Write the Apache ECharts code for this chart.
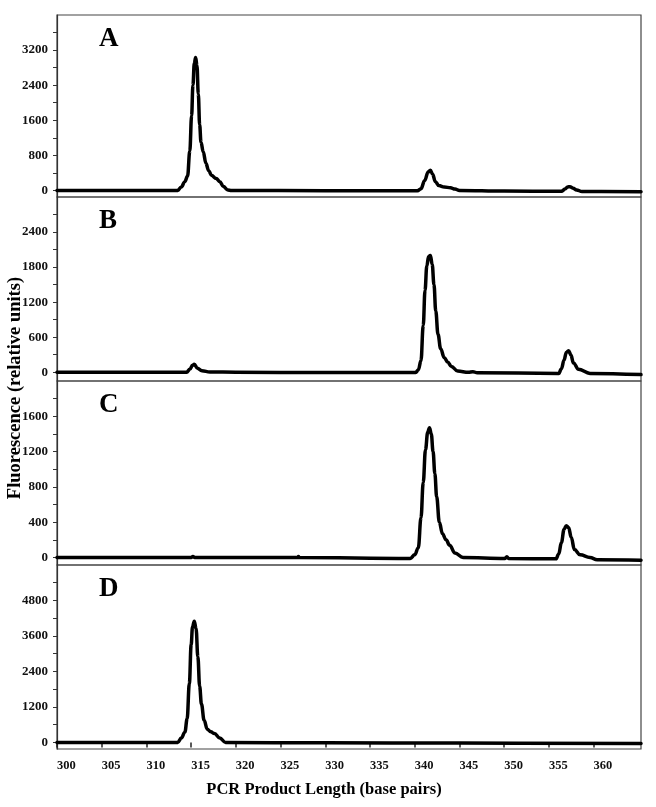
<!DOCTYPE html>
<html>
<head>
<meta charset="utf-8">
<script src="https://cdn.jsdelivr.net/npm/echarts@6/dist/echarts.min.js"></script>
<style>
  html, body { margin: 0; padding: 0; background: #fff; }
  #chart { width: 656px; height: 807px; }
</style>
</head>
<body>
<div id="chart"></div>
<script>
// panel letters
const panelNames = ['A', 'B', 'C', 'D']

// x axis: PCR product length (bp)
const xTicks = [300, 305, 310, 315, 320, 325, 330, 335, 340, 345, 350, 355, 360]

// y axis ranges and tick labels per panel
const yMax = [4000, 3000, 2000, 6000]
const yMin = [-150, -150, -85, -220]
const yLabelsA = [0, 800, 1600, 2400, 3200]
const yLabelsB = [0, 600, 1200, 1800, 2400]
const yLabelsC = [0, 400, 800, 1200, 1600]
const yLabelsD = [0, 1200, 2400, 3600, 4800]
const yTicksA = [0, 400, 800, 1200, 1600, 2000, 2400, 2800, 3200, 3600]
const yTicksB = [0, 300, 600, 900, 1200, 1500, 1800, 2100, 2400, 2700]
const yTicksC = [0, 200, 400, 600, 800, 1000, 1200, 1400, 1600, 1800]
const yTicksD = [0, 600, 1200, 1800, 2400, 3000, 3600, 4200, 4800, 5400]

// traces: [bp, fluorescence]
const traceA = [
  [300, 0], [313.5, 0], [313.9, 80], [314.3, 200], [314.6, 330], [314.85, 900],
  [315.05, 1700], [315.2, 2400], [315.35, 2900], [315.5, 3030], [315.65, 2850],
  [315.8, 2200], [315.95, 1500], [316.1, 1100], [316.35, 880], [316.65, 620],
  [316.95, 450], [317.3, 340], [317.8, 270], [318.2, 200], [318.6, 90],
  [319.1, 10], [319.5, 0], [330, -5], [340.3, -10], [340.7, 40], [341.1, 220],
  [341.5, 420], [341.75, 460], [342.0, 370], [342.3, 200], [342.7, 110],
  [343.3, 80], [344.0, 60], [344.5, 30], [345.0, 0], [350, -15], [356.4, -20],
  [356.8, 30], [357.1, 80], [357.35, 85], [357.7, 50], [358.1, 10], [358.7, -25],
  [365.3, -30]
]
const traceB = [
  [300, 0], [314.5, 0], [314.85, 50], [315.15, 120], [315.35, 135], [315.7, 70],
  [316.2, 25], [317.1, 5], [320, 0], [330, -5], [340.1, -5], [340.4, 40],
  [340.7, 200], [340.95, 800], [341.15, 1400], [341.35, 1820], [341.55, 1980],
  [341.75, 2000], [341.95, 1850], [342.15, 1500], [342.35, 1050], [342.6, 650],
  [342.9, 400], [343.3, 250], [343.7, 170], [344.1, 100], [344.8, 20],
  [346.0, 0], [346.5, 10], [347.0, -10], [356.1, -20], [356.4, 60],
  [356.7, 210], [356.95, 340], [357.2, 370], [357.45, 300], [357.75, 160],
  [358.3, 50], [359.6, -20], [365.3, -40]
]
const traceC = [
  [300, 0], [315.0, 0], [315.2, 12], [315.4, 0], [326.9, 0], [327.0, 10],
  [327.1, 0], [339.5, -10], [340.0, 30], [340.4, 110], [340.7, 450],
  [340.95, 850], [341.2, 1220], [341.45, 1420], [341.65, 1470], [341.85, 1400],
  [342.05, 1200], [342.25, 950], [342.45, 690], [342.75, 400], [343.1, 270],
  [343.5, 200], [343.9, 140], [344.5, 50], [345.4, 0], [350.1, -10], [350.3, 8],
  [350.5, -12], [355.8, -15], [356.1, 40], [356.4, 170], [356.7, 320],
  [356.95, 360], [357.2, 340], [357.5, 230], [357.85, 90], [358.5, 30],
  [359.6, 0], [360.4, -25], [365.3, -30]
]
const traceD = [
  [300, 0], [313.5, 0], [313.9, 150], [314.3, 350], [314.55, 800], [314.8, 2000],
  [315.0, 3300], [315.15, 3900], [315.35, 4100], [315.55, 3850], [315.75, 2900],
  [315.95, 1900], [316.15, 1300], [316.45, 750], [316.8, 450], [317.2, 360],
  [317.6, 300], [318.2, 150], [318.85, 0], [330, -10], [345, -20], [365.3, -30]
]

const traces = [traceA, traceB, traceC, traceD]
const yLabels = [yLabelsA, yLabelsB, yLabelsC, yLabelsD]
const yTicks = [yTicksA, yTicksB, yTicksC, yTicksD]

const tops = [15, 197, 381, 565]
const heights = [182, 184, 184, 184]
const font = '"Liberation Serif", "DejaVu Serif", serif'

const chart = echarts.init(document.getElementById('chart'), null, { renderer: 'canvas' })

const grids = [], xAxes = [], yAxes = [], series = [], graphics = []
traces.forEach((tr, i) => {
  grids.push({
    left: 57, right: 15, top: tops[i], height: heights[i],
    show: true, borderColor: '#444', borderWidth: 1.2, backgroundColor: 'transparent'
  })
  const isLast = i === traces.length - 1
  xAxes.push({
    type: 'value', gridIndex: i, min: 300, max: 365.3,
    axisLine: { show: false },
    splitLine: { show: false },
    axisTick: {
      show: isLast, customValues: xTicks, length: 5, inside: false,
      lineStyle: { color: '#222', width: 1.5 }
    },
    axisLabel: {
      show: isLast, customValues: xTicks, align: 'left', margin: 10,
      formatter: v => String(v),
      fontFamily: font, fontWeight: 'bold', fontSize: 12.5, color: '#111'
    }
  })
  yAxes.push({
    type: 'value', gridIndex: i, min: yMin[i], max: yMax[i],
    axisLine: { show: true, lineStyle: { color: '#333', width: 1.2 } },
    splitLine: { show: false },
    axisTick: {
      show: true, customValues: yTicks[i], length: 4, inside: false,
      lineStyle: { color: '#333', width: 1 }
    },
    axisLabel: {
      customValues: yLabels[i], margin: 9,
      formatter: v => String(v),
      fontFamily: font, fontWeight: 'bold', fontSize: 13, color: '#111'
    }
  })
  series.push({
    type: 'line', xAxisIndex: i, yAxisIndex: i, data: tr,
    showSymbol: false, smooth: 0.4, smoothMonotone: 'x',
    lineStyle: { color: '#000', width: 3.5, join: 'round', cap: 'round' },
    silent: true, animation: false
  })
  graphics.push({
    type: 'text', left: 99, top: tops[i] + 11,
    style: { text: panelNames[i], font: 'bold 27px ' + font, fill: '#000' }
  })
})

graphics.push({
  type: 'text', x: 324, y: 790,
  style: {
    text: 'PCR Product Length (base pairs)', font: 'bold 16.5px ' + font,
    fill: '#000', align: 'center', verticalAlign: 'middle'
  }
})
graphics.push({
  type: 'text', x: 15, y: 388, rotation: Math.PI / 2,
  style: {
    text: 'Fluorescence (relative units)', font: 'bold 18.5px ' + font,
    fill: '#000', align: 'center', verticalAlign: 'middle'
  }
})

chart.setOption({
  backgroundColor: '#fff',
  animation: false,
  grid: grids,
  xAxis: xAxes,
  yAxis: yAxes,
  series: series,
  graphic: graphics
})
</script>
</body>
</html>
